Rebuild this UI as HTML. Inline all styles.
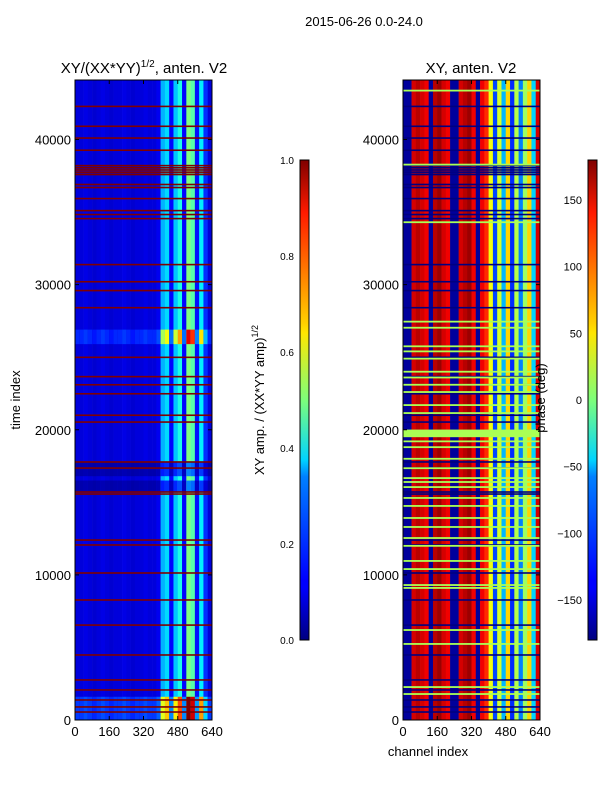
<!DOCTYPE html>
<html><head><meta charset="utf-8"><style>
body{margin:0;background:#fff;font-family:"Liberation Sans","DejaVu Sans",sans-serif;}
svg{display:block}
text{font-family:"Liberation Sans","DejaVu Sans",sans-serif;fill:#000}
</style></head><body>
<svg id="fig" width="600" height="800" viewBox="0 0 600 800" xmlns="http://www.w3.org/2000/svg">
<defs>
<linearGradient id="jet" x1="0" y1="1" x2="0" y2="0">
<stop offset="0" stop-color="#000080"/><stop offset="0.11" stop-color="#0000ff"/><stop offset="0.125" stop-color="#0000ff"/>
<stop offset="0.34" stop-color="#0080ff"/><stop offset="0.375" stop-color="#00d4ff"/><stop offset="0.5" stop-color="#7dff7a"/>
<stop offset="0.64" stop-color="#ffe600"/><stop offset="0.66" stop-color="#ffd000"/><stop offset="0.89" stop-color="#ff1a00"/><stop offset="1" stop-color="#800000"/>
</linearGradient>
<clipPath id="clipL"><rect x="75" y="80" width="137" height="640"/></clipPath>
<clipPath id="clipR"><rect x="403" y="80" width="137" height="640"/></clipPath>
</defs>
<text x="364" y="26" font-size="13" text-anchor="middle">2015-06-26 0.0-24.0</text>
<text x="144" y="73" font-size="15" text-anchor="middle">XY/(XX*YY)<tspan font-size="10" dy="-6">1/2</tspan><tspan dy="6">, anten. V2</tspan></text>
<text x="471" y="73" font-size="15" text-anchor="middle">XY, anten. V2</text>
<g id="heatL" clip-path="url(#clipL)"></g>
<g id="heatR" clip-path="url(#clipR)"></g>
<g id="axes"></g>
<text transform="translate(20,400) rotate(-90)" font-size="13" text-anchor="middle">time index</text>
<text x="428" y="756" font-size="13" text-anchor="middle">channel index</text>
<text transform="translate(264,400) rotate(-90)" font-size="13" text-anchor="middle">XY amp. / (XX*YY amp)<tspan font-size="9" dy="-6">1/2</tspan></text>
<text transform="translate(545,398) rotate(-90)" font-size="13" text-anchor="middle">phase (deg)</text>
<rect x="300" y="160" width="9" height="480" fill="url(#jet)" stroke="#000" stroke-width="1"/>
<rect x="588" y="160" width="9" height="480" fill="url(#jet)" stroke="#000" stroke-width="1"/>
</svg>
<script>
// channel bins of 20 channels each (0..640)
const ampColumns=[0.09,0.09,0.1,0.09,0.08,0.09,0.1,0.09,0.08,0.09,0.09,0.1,0.09,0.08,0.09,0.09,0.1,0.09,0.09,0.11,0.3,0.34,0.13,0.32,0.4,0.13,0.5,0.46,0.14,0.36,0.17,0.09];
const phaseColumns=[-170,-170,150,160,150,140,-170,160,170,150,140,-170,-170,150,160,170,140,-170,140,120,40,-110,30,-70,60,-120,20,-90,10,60,-60,150];
// time segments with amplitude gain [start,end,gain]
const gainStart=[0,25900,15700,16800];
const gainEnd=[1600,26900,16500,17800];
const gainValue=[2.0,1.8,0.5,0.5];
// flagged rows (amp=1, phase=-180)
const flaggedRows=[42280,40910,40100,39260,37600,37750,37900,38050,38200,37590,36900,36690,35930,35100,34830,34550,31380,30200,29590,28410,24990,23660,23100,22480,21000,20530,17780,17360,15710,15570,12400,12060,10130,8270,6540,4480,2760,2070,1380,900,550];
// rows with phase near +20 deg in right panel
const greenRows=[43370,38270,34300,27450,27030,25750,25400,24900,24000,23600,23100,22600,21700,21150,19550,19650,19750,19850,19950,19200,18800,18000,17350,16670,16400,16050,15300,14750,13920,13300,12540,12000,10960,10400,9300,9100,6200,5240,2270,1790];
const ampTicks=[0,0.2,0.4,0.6,0.8,1.0];
const phaseTicks=[-150,-100,-50,0,50,100,150];
const timeTicks=[0,10000,20000,30000,40000];
const chanTicks=[0,160,320,480,640];

const NS="http://www.w3.org/2000/svg";
const TMAX=44100, Y0=720, H=640, W=137;
const yT=t=>Y0-t/TMAX*H;
const xL=c=>75+c/640*W;
const xR=c=>403+c/640*W;
function jet(v){v=Math.max(0,Math.min(1,v));
 const r=Math.max(0,Math.min(1,1.5-Math.abs(4*v-3))),g=Math.max(0,Math.min(1,1.5-Math.abs(4*v-2))),b=Math.max(0,Math.min(1,1.5-Math.abs(4*v-1)));
 return `rgb(${Math.round(r*255)},${Math.round(g*255)},${Math.round(b*255)})`;}
const pv=p=>(p+180)/360;
function rect(g,x,y,w,h,fill){const r=document.createElementNS(NS,'rect');
 r.setAttribute('x',x);r.setAttribute('y',y);r.setAttribute('width',w);r.setAttribute('height',h);r.setAttribute('fill',fill);g.appendChild(r);return r;}
const hL=document.getElementById('heatL'),hR=document.getElementById('heatR');
ampColumns.forEach((v,i)=>{
 const r=rect(hL,xL(i*20),80,xL(20)-xL(0)+0.3,H,jet(v));
 
 
 gainStart.forEach((s,k)=>{
  const c=rect(hL,xL(i*20),yT(gainEnd[k]),xL(20)-xL(0)+0.3,yT(s)-yT(gainEnd[k]),jet(v*gainValue[k]));
  
  
 });
});
phaseColumns.forEach((p,i)=>{
 const r=rect(hR,xR(i*20),80,xR(20)-xR(0)+0.3,H,jet(pv(p)));
 
 
});
flaggedRows.forEach(t=>{
 const a=rect(hL,75,yT(t)-0.8,W,1.6,jet(1));
 
 
 const b=rect(hR,403,yT(t)-0.8,W,1.6,jet(0));
 
 
});
greenRows.forEach(t=>{
 const a=rect(hR,403,yT(t)-0.9,W,1.8,jet(pv(15)));
 
 
});
const ax=document.getElementById('axes');
function line(x1,y1,x2,y2){const l=document.createElementNS(NS,'line');
 l.setAttribute('x1',x1);l.setAttribute('y1',y1);l.setAttribute('x2',x2);l.setAttribute('y2',y2);l.setAttribute('stroke','#000');ax.appendChild(l);}
function text(x,y,s,anchor,size,name){const t=document.createElementNS(NS,'text');
 t.setAttribute('x',x);t.setAttribute('y',y);t.setAttribute('text-anchor',anchor);t.setAttribute('font-size',size);t.textContent=s;
 
 
 ax.appendChild(t);}
[75,403].forEach((x0,pi)=>{
 const fr=rect(ax,x0,80,W,H,'none');fr.setAttribute('stroke','#000');
 
 
 timeTicks.forEach(t=>{const y=yT(t);line(x0,y,x0+4,y);line(x0+W,y,x0+W-4,y);text(x0-4,y+5,String(t),'end',13,'y-tick-label');});
 chanTicks.forEach(c=>{const x=x0+c/640*W;line(x,720,x,716);line(x,80,x,84);text(x,736,String(c),'middle',13,'x-tick-label');});
});
ampTicks.forEach(v=>{const y=640-v*480;line(300,y,309,y);text(294,y+4,v.toFixed(1),'end',10,'amp-colorbar-tick');});
phaseTicks.forEach(p=>{const y=640-(p+180)/360*480;line(588,y,597,y);text(582,y+4,p<0?'\u2212'+Math.abs(p):String(p),'end',11,'phase-colorbar-tick');});
</script>
</body></html>
